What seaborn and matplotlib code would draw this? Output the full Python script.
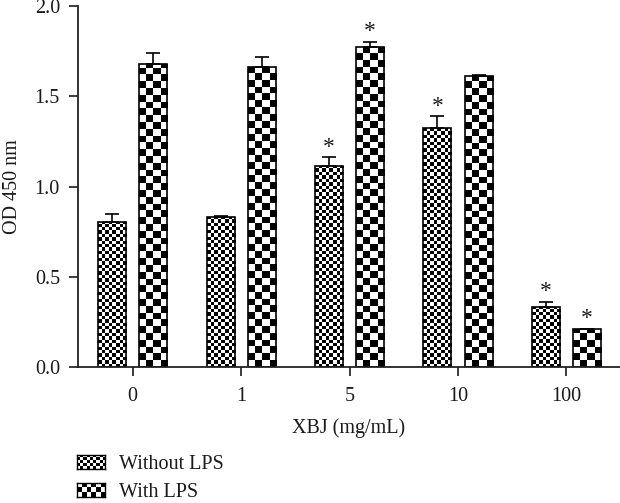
import numpy as np
import pandas as pd
import matplotlib
matplotlib.use("Agg")
import matplotlib.pyplot as plt
import seaborn as sns
from matplotlib.colors import ListedColormap
from matplotlib.patches import Rectangle

# ---- data ----
doses = ["0", "1", "5", "10", "100"]
groups = ["Without LPS", "With LPS"]
without_lps = [0.805, 0.833, 1.114, 1.324, 0.334]
without_err = [0.044, 0.004, 0.049, 0.066, 0.028]
with_lps = [1.677, 1.664, 1.775, 1.612, 0.210]
with_err = [0.063, 0.055, 0.028, 0.004, 0.003]
without_sig = [False, False, True, True, True]
with_sig = [False, False, True, False, True]
y_ticks = [0.0, 0.5, 1.0, 1.5, 2.0]

df = pd.DataFrame({
    "dose": doses * 2,
    "group": [groups[0]] * len(doses) + [groups[1]] * len(doses),
    "od": without_lps + with_lps,
})
errs = [without_err, with_err]
sigs = [without_sig, with_sig]

sns.set_style("ticks")
plt.rcParams["font.family"] = ["Liberation Serif", "DejaVu Serif"]
TXT = "#1a1a1a"
FS = 14.5

W, H = 620, 503
fig = plt.figure(figsize=(W / 100, H / 100), dpi=100)
ax = fig.add_axes([78 / W, 1 - 367 / H, 542 / W, 361 / H])

sns.barplot(data=df, x="dose", y="od", hue="group", order=doses,
            hue_order=groups, palette={groups[0]: "white", groups[1]: "white"},
            width=0.76, gap=0.32, edgecolor="black", linewidth=1.2,
            errorbar=None, legend=False, ax=ax)

XLIM = (-0.505, 4.495)
YLIM = (0, 2.0)
px_x = 542 / (XLIM[1] - XLIM[0])
px_y = 361 / (YLIM[1] - YLIM[0])
cell_px = [3.4, 6.8]
cmap = ListedColormap(["white", "black"])

def checker(nrow, ncol):
    return np.add.outer(np.arange(nrow), np.arange(ncol)) % 2

bar_conts = [list(c) for c in ax.containers[:len(groups)]]
for gi, cont in enumerate(bar_conts):
    for j, bar in enumerate(cont):
        x0, w, h = bar.get_x(), bar.get_width(), bar.get_height()
        ncol = max(1, int(round(w * px_x / cell_px[gi])))
        nrow = max(1, int(round(h * px_y / cell_px[gi])))
        hh = nrow * cell_px[gi] / px_y
        im = ax.imshow(checker(nrow, ncol), cmap=cmap, vmin=0, vmax=1,
                       extent=(x0, x0 + w, 0, max(hh, h)), origin="lower",
                       interpolation="nearest", aspect="auto", zorder=1)
        im.set_clip_path(bar)
        bar.set_facecolor("none")
        bar.set_zorder(2)
        xc = x0 + w / 2
        e = errs[gi][j]
        ax.errorbar(xc, h, yerr=[[0], [e]], fmt="none", ecolor="black",
                    elinewidth=1.2, capsize=5, capthick=1.2, zorder=3)
        if sigs[gi][j]:
            ax.text(xc, h + e + 0.025, "*", ha="center", va="baseline",
                    fontsize=17, color=TXT)

ax.set_xlim(*XLIM)
ax.set_ylim(*YLIM)
ax.set_yticks(y_ticks)
ax.set_yticklabels([f"{v:.1f}" for v in y_ticks])
ax.tick_params(axis="both", labelsize=FS, colors=TXT, width=1.2, length=6.5)
ax.tick_params(axis="x", pad=8)
ax.tick_params(axis="y", pad=6.5)
for s in ["top", "right"]:
    ax.spines[s].set_visible(False)
for s in ["left", "bottom"]:
    ax.spines[s].set_linewidth(1.3)
    ax.spines[s].set_color("#222222")
ax.set_xlabel("XBJ (mg/mL)", fontsize=FS, color=TXT)
ax.set_ylabel("OD 450 nm", fontsize=FS, color=TXT)
ax.yaxis.set_label_coords(-(78 - 13) / 542, 0.5)
ax.xaxis.set_label_coords(0.5, -(428 - 367) / 361)
ax.xaxis.label.set_va("center")
ax.yaxis.label.set_va("center")

# legend with checker swatches
handles = [Rectangle((0, 0), 1, 1, facecolor="none", edgecolor="none")
           for _ in groups]
leg = fig.legend(handles, groups, loc="upper left",
                 bbox_to_anchor=(77 / W, 1 - 455 / H), frameon=False,
                 fontsize=FS, handlelength=1.4, handleheight=0.7,
                 handletextpad=0.7, labelspacing=0.42, borderpad=0,
                 borderaxespad=0, labelcolor=TXT)
fig.canvas.draw()
for gi, hp in enumerate(leg.legend_handles):
    bb = hp.get_window_extent().transformed(fig.transFigure.inverted())
    sax = fig.add_axes([bb.x0, bb.y0, bb.width, bb.height], zorder=10)
    wpx = bb.width * W
    hpx = bb.height * H
    c = 3.0 if gi == 0 else 4.7
    sax.imshow(checker(max(1, int(round(hpx / c))), max(1, int(round(wpx / c)))),
               cmap=cmap, vmin=0, vmax=1, interpolation="nearest", aspect="auto")
    sax.set_xticks([]); sax.set_yticks([])
    for s in sax.spines.values():
        s.set_linewidth(1.0)
        s.set_color("black")

fig.savefig("out.png", dpi=100)
